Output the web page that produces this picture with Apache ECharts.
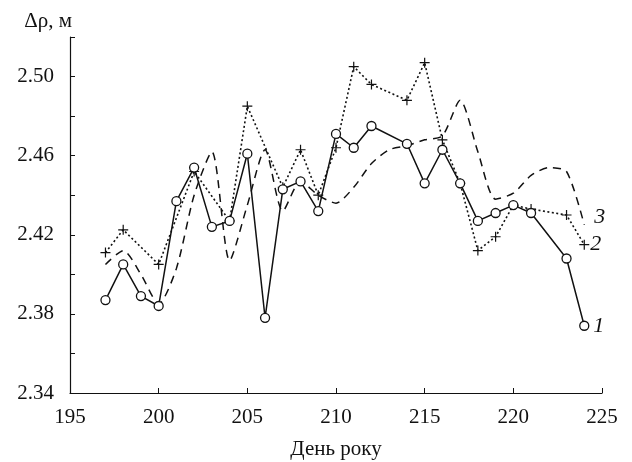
<!DOCTYPE html>
<html>
<head>
<meta charset="utf-8">
<script src="https://cdn.jsdelivr.net/npm/echarts@6/dist/echarts.min.js"></script>
<style>
    html, body { margin: 0; padding: 0; background: #fff; }
    #chart { width: 632px; height: 462px; }
</style>
</head>
<body>
<div id="chart"></div>
<script>
// curve 1 (solid, circles)
var days1 = [197, 198, 199, 200, 201, 202, 203, 204, 205, 206, 207, 208, 209, 210, 211, 212, 214, 215, 216, 217, 218, 219, 220, 221, 223, 224];
var vals1 = [2.387, 2.405, 2.389, 2.384, 2.437, 2.454, 2.424, 2.427, 2.461, 2.378, 2.443, 2.447, 2.432, 2.471, 2.464, 2.475, 2.466, 2.446, 2.463, 2.446, 2.427, 2.431, 2.435, 2.431, 2.408, 2.374];

// curve 2 (dotted, crosses)
var days2 = [197, 198, 200, 202, 204, 205, 207, 208, 209, 210, 211, 212, 214, 215, 216, 217, 218, 219, 220, 221, 223, 224];
var vals2 = [2.411, 2.4225, 2.405, 2.452, 2.427, 2.485, 2.444, 2.463, 2.440, 2.464, 2.505, 2.496, 2.488, 2.507, 2.468, 2.446, 2.412, 2.419, 2.435, 2.433, 2.430, 2.415];

// curve 3 (dashed)
var days3 = [197, 198, 199, 200, 201, 202, 203, 204, 205, 206, 207, 208, 209, 210, 211, 212, 213, 214, 215, 216, 217, 218, 219, 220, 221, 222, 223, 224];
var vals3 = [2.405, 2.412, 2.400, 2.385, 2.403, 2.440, 2.462, 2.407, 2.435, 2.463, 2.432, 2.447, 2.440, 2.436, 2.444, 2.456, 2.463, 2.465, 2.468, 2.470, 2.488, 2.462, 2.438, 2.441, 2.450, 2.454, 2.452, 2.425];

var font = '"Liberation Serif", "DejaVu Serif", serif';
var ink = '#111';

function pairs(xs, ys) {
    var out = [];
    xs.forEach(function (x, i) { out.push([x, ys[i]]); });
    return out;
}

var plus = 'path://M4.4,0h1.2v4.4h4.4v1.2h-4.4v4.4h-1.2v-4.4h-4.4v-1.2h4.4z';

var chart = echarts.init(document.getElementById('chart'));
chart.setOption({
    backgroundColor: '#fff',
    animation: false,
    grid: { left: 70, right: 30, top: 37, bottom: 69, outerBoundsMode: 'none' },
    xAxis: {
        type: 'value',
        min: 195,
        max: 225,
        interval: 5,
        name: 'День року',
        nameLocation: 'middle',
        nameGap: 46,
        nameTextStyle: { fontFamily: font, fontSize: 21, color: ink },
        axisLine: { lineStyle: { color: ink, width: 1.2 } },
        axisTick: { inside: true, length: 5, lineStyle: { color: ink } },
        axisLabel: { fontFamily: font, fontSize: 21, color: ink, margin: 14 },
        splitLine: { show: false }
    },
    yAxis: {
        type: 'value',
        min: 2.34,
        max: 2.52,
        interval: 0.02,
        name: 'Δρ, м',
        nameLocation: 'end',
        nameGap: 5,
        nameTextStyle: { fontFamily: font, fontSize: 21, color: ink, align: 'right', padding: [0, -2, 0, 0] },
        axisLine: { show: true, lineStyle: { color: ink, width: 1.2 } },
        axisTick: { inside: true, length: 5, lineStyle: { color: ink } },
        axisLabel: {
            fontFamily: font, fontSize: 21, color: ink, margin: 16,
            formatter: function (v) {
                var k = Math.round((v - 2.34) / 0.02);
                return k % 2 === 0 && k < 9 ? v.toFixed(2) : '';
            }
        },
        splitLine: { show: false }
    },
    series: [
        {
            type: 'line',
            data: pairs(days3, vals3),
            smooth: 0.25,
            showSymbol: false,
            z: 2,
            lineStyle: { color: ink, width: 1.5, type: [8, 6] },
            endLabel: {
                show: true, formatter: '3', offset: [2, -8],
                fontFamily: font, fontStyle: 'italic', fontSize: 22, color: ink
            }
        },
        {
            type: 'line',
            data: pairs(days2, vals2),
            symbol: plus,
            symbolSize: 10,
            z: 3,
            itemStyle: { color: ink },
            lineStyle: { color: ink, width: 1.6, type: [2, 2.5] },
            endLabel: {
                show: true, formatter: '2', distance: 6,
                fontFamily: font, fontStyle: 'italic', fontSize: 22, color: ink
            }
        },
        {
            type: 'line',
            data: pairs(days1, vals1),
            symbol: 'circle',
            symbolSize: 9,
            z: 4,
            itemStyle: { color: '#fff', borderColor: ink, borderWidth: 1.3 },
            lineStyle: { color: ink, width: 1.5 },
            endLabel: {
                show: true, formatter: '1', distance: 9,
                fontFamily: font, fontStyle: 'italic', fontSize: 22, color: ink
            }
        }
    ]
});
</script>
</body>
</html>
